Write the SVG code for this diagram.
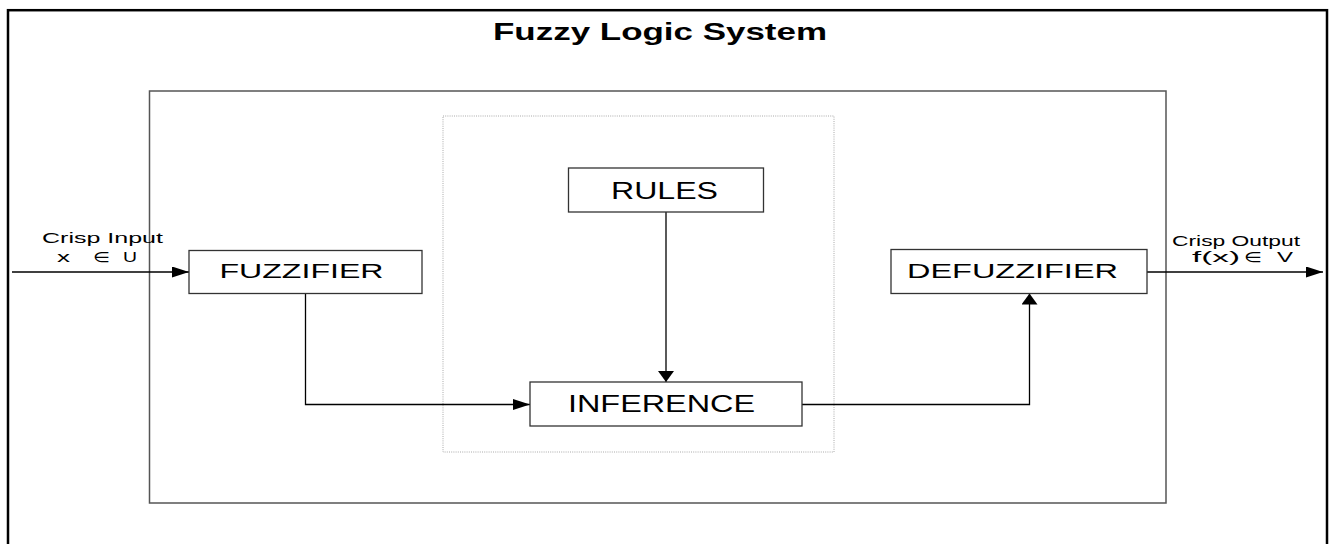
<svg xmlns="http://www.w3.org/2000/svg" width="1334" height="544" viewBox="0 0 1334 544">
  <style>
    text { font-family: "Liberation Sans", Arial, sans-serif; fill: #000; }
    .title { font-size: 24px; font-weight: bold; }
    .big { font-size: 24.5px; }
    .mid { font-size: 20px; }
    .small { font-size: 15px; }
    .sym { font-family: "DejaVu Sans", "Liberation Sans", sans-serif; font-size: 14px; }
    .box { fill: #fff; stroke: #333; stroke-width: 1.3; }
    .wire { fill: none; stroke: #000; stroke-width: 1.3; }
  </style>
  <defs>
    <!-- horizontal head: long and flat -->
    <marker id="arrow-h" markerUnits="userSpaceOnUse" markerWidth="17" markerHeight="11" refX="17" refY="5.5" orient="auto">
      <path d="M0,0 L17,5.5 L0,11 Z" fill="#000"/>
    </marker>
    <!-- vertical head: short and wide -->
    <marker id="arrow-v" markerUnits="userSpaceOnUse" markerWidth="11" markerHeight="16" refX="11" refY="8" orient="auto">
      <path d="M0,0 L11,8 L0,16 Z" fill="#000"/>
    </marker>
  </defs>

  <rect width="1334" height="544" fill="#fff"/>

  <!-- outer system frame (open at the bottom edge of the page) -->
  <g id="system-frame">
    <rect x="8" y="10.2" width="1319" height="560" fill="none" stroke="#000" stroke-width="2.5"/>
    <text class="title" x="493" y="40" textLength="334" lengthAdjust="spacingAndGlyphs">Fuzzy Logic System</text>
  </g>

  <!-- inner processing frame -->
  <g id="core-frame">
    <rect x="149.5" y="91" width="1016.5" height="412" fill="none" stroke="#555" stroke-width="1.5"/>
  </g>

  <!-- dotted inference-engine region -->
  <g id="engine-region">
    <rect x="443" y="116" width="391" height="336" fill="none" stroke="#aaa" stroke-width="1" stroke-dasharray="1 1.2"/>
  </g>

  <g id="connectors">
    <path class="wire" d="M12,272 H189" marker-end="url(#arrow-h)"/>
    <path class="wire" d="M305.5,293 V404.5 H530" marker-end="url(#arrow-h)"/>
    <path class="wire" d="M666,212 V382" marker-end="url(#arrow-v)"/>
    <path class="wire" d="M802,404.5 H1029.5 V293.5" marker-end="url(#arrow-v)"/>
    <path class="wire" d="M1147,272 H1323" marker-end="url(#arrow-h)"/>
  </g>

  <g id="input-label">
    <text class="small" x="42" y="242.7" textLength="121" lengthAdjust="spacingAndGlyphs">Crisp Input</text>
    <text class="small" x="57" y="261.5" textLength="13" lengthAdjust="spacingAndGlyphs">x</text>
    <text class="sym" x="93" y="261.5" textLength="17" lengthAdjust="spacingAndGlyphs">∈</text>
    <text class="small" x="123" y="261.5" textLength="14" lengthAdjust="spacingAndGlyphs">U</text>
  </g>

  <g id="output-label">
    <text class="small" x="1172" y="246" textLength="128" lengthAdjust="spacingAndGlyphs">Crisp Output</text>
    <text class="small" x="1192" y="261.5" textLength="48" lengthAdjust="spacingAndGlyphs">f(x)</text>
    <text class="sym" x="1244" y="261.5" textLength="18" lengthAdjust="spacingAndGlyphs">∈</text>
    <text class="small" x="1277" y="261.5" textLength="16" lengthAdjust="spacingAndGlyphs">V</text>
  </g>

  <g id="fuzzifier">
    <rect class="box" x="189" y="250.5" width="233" height="43"/>
    <text class="mid" x="219.5" y="277.7" textLength="164" lengthAdjust="spacingAndGlyphs">FUZZIFIER</text>
  </g>

  <g id="rules">
    <rect class="box" x="568.5" y="168" width="195" height="44"/>
    <text class="big" x="611" y="199" textLength="107" lengthAdjust="spacingAndGlyphs">RULES</text>
  </g>

  <g id="inference">
    <rect class="box" x="530" y="382" width="272" height="44"/>
    <text class="big" x="568" y="411.5" textLength="187" lengthAdjust="spacingAndGlyphs">INFERENCE</text>
  </g>

  <g id="defuzzifier">
    <rect class="box" x="891" y="249.5" width="256" height="44"/>
    <text class="mid" x="907" y="277.7" textLength="211" lengthAdjust="spacingAndGlyphs">DEFUZZIFIER</text>
  </g>
</svg>
